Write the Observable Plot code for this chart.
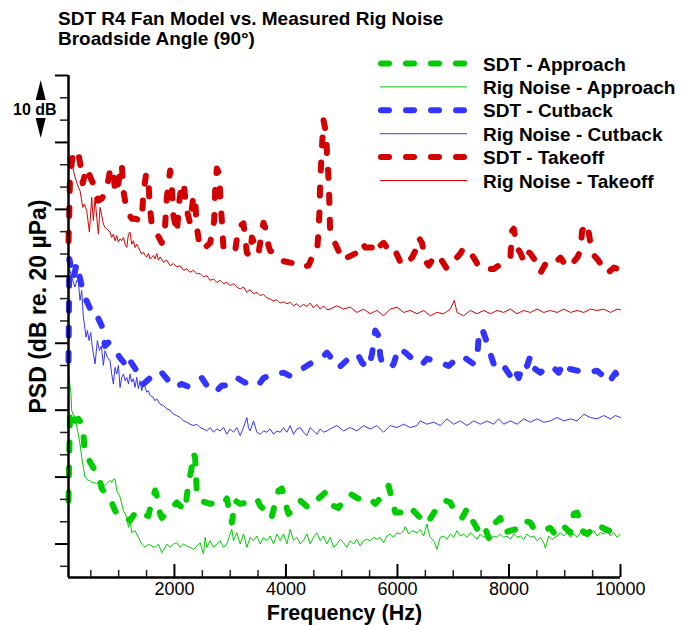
<!DOCTYPE html>
<html><head><meta charset="utf-8">
<script src="https://cdn.jsdelivr.net/npm/d3@7"></script>
<script src="https://cdn.jsdelivr.net/npm/@observablehq/plot@0.6"></script>
<style>
html,body{margin:0;padding:0;background:#fff;overflow:hidden}
#wrap{position:relative;width:693px;height:625px}
#wrap svg.over{position:absolute;left:0;top:0;pointer-events:none}
</style></head><body><div id="wrap"></div>
<script>
// ---- data: [frequency Hz, PSD dB] ----
const sdtTakeoff = [[100,115.3],[115,119.8],[127,124.8],[187,128.8],[276,128.3],[307,127.0],[355,123.9],[427,126.2],[517,124.3],[576,123.3],[635,121.3],[696,121.6],[756,122.5],[786,123.1],[845,125.8],[905,126.2],[935,122.4],[994,123.9],[1055,126.8],[1084,122.8],[1145,119.8],[1235,118.6],[1294,118.6],[1414,118.3],[1443,122.5],[1492,125.3],[1533,124.8],[1551,121.3],[1594,117.6],[1684,116.4],[1773,115.0],[1833,117.6],[1863,121.8],[1922,125.8],[1953,123.3],[1982,119.1],[2043,116.5],[2089,121.3],[2132,124.0],[2174,123.3],[2210,120.3],[2281,117.9],[2341,122.1],[2371,121.3],[2402,117.3],[2461,114.1],[2551,114.3],[2641,115.0],[2712,118.3],[2730,122.8],[2761,126.1],[2807,125.3],[2820,122.4],[2850,118.3],[2879,114.3],[3030,114.3],[3089,113.8],[3148,117.3],[3238,117.9],[3299,113.5],[3358,113.1],[3389,115.8],[3479,114.1],[3507,113.4],[3597,118.0],[3628,117.3],[3687,114.6],[3717,113.8],[3838,113.4],[3927,112.3],[4107,112.0],[4225,111.3],[4405,111.6],[4466,112.8],[4556,113.4],[4584,116.8],[4602,119.8],[4615,124.3],[4645,129.2],[4674,133.3],[4723,131.3],[4735,128.3],[4753,126.2],[4771,123.3],[4782,119.8],[4794,116.4],[4884,114.9],[4943,113.8],[5033,112.3],[5094,112.8],[5243,113.4],[5302,114.1],[5363,115.0],[5423,114.3],[5543,114.3],[5602,113.4],[5692,114.6],[5751,115.0],[5812,114.3],[5871,113.4],[5961,113.8],[6081,111.6],[6171,112.0],[6261,112.8],[6320,113.8],[6379,115.8],[6440,115.0],[6500,112.3],[6559,111.6],[6649,112.8],[6710,111.9],[6799,112.3],[6889,111.1],[7128,113.4],[7187,114.3],[7248,114.1],[7367,112.8],[7428,111.9],[7517,111.9],[7577,111.1],[7726,111.1],[7815,111.6],[7905,111.9],[8025,112.8],[8056,116.8],[8085,117.1],[8146,114.3],[8205,113.5],[8264,112.3],[8325,113.8],[8384,113.4],[8505,111.9],[8564,110.5],[8684,112.3],[8743,112.6],[8864,112.3],[8923,112.8],[9043,111.3],[9133,111.9],[9223,112.8],[9282,113.8],[9312,116.8],[9402,117.9],[9431,116.5],[9492,113.4],[9582,112.6],[9641,111.9],[9761,110.4],[9880,111.3],[9964,111.1]];

const rigTakeoff = [[100,127.3],[157,127.0],[217,124.8],[277,123.3],[307,122.8],[355,120.3],[385,120.8],[427,119.8],[475,116.6],[516,121.8],[546,118.3],[576,121.8],[606,118.8],[636,116.3],[666,120.3],[696,119.1],[726,117.8],[755,117.3],[785,117.1],[845,116.6],[875,115.8],[905,116.3],[935,115.3],[965,116.1],[995,115.1],[1025,115.6],[1055,115.3],[1085,115.8],[1115,114.8],[1145,114.3],[1175,116.3],[1204,116.6],[1234,114.8],[1264,115.3],[1294,114.3],[1324,114.8],[1354,114.3],[1384,113.8],[1414,113.3],[1444,113.6],[1474,113.1],[1504,112.9],[1534,113.4],[1563,112.6],[1593,112.9],[1623,113.1],[1653,112.6],[1683,113.4],[1713,112.4],[1743,112.9],[1803,112.1],[1863,112.4],[1922,111.6],[1982,111.9],[2042,111.4],[2102,111.6],[2162,110.9],[2222,111.1],[2281,110.6],[2341,110.9],[2401,110.4],[2461,110.4],[2521,109.9],[2581,110.1],[2640,109.4],[2700,109.6],[2760,109.1],[2820,109.4],[2880,108.9],[2940,109.1],[2999,108.6],[3059,108.9],[3119,108.4],[3179,108.1],[3239,108.4],[3299,107.6],[3358,108.0],[3418,107.4],[3478,107.6],[3538,107.1],[3598,107.3],[3657,106.8],[3717,106.6],[3777,106.3],[3837,106.5],[3897,106.0],[3957,106.2],[4016,105.9],[4076,106.1],[4136,105.6],[4196,105.9],[4256,105.4],[4315,105.8],[4375,105.5],[4435,106.0],[4495,105.3],[4555,105.8],[4615,105.1],[4675,105.6],[4734,105.0],[4794,105.1],[4914,105.6],[5033,105.1],[5153,105.4],[5273,104.6],[5392,105.1],[5512,104.4],[5632,104.9],[5751,104.1],[5871,105.1],[5991,105.4],[6110,104.6],[6230,104.9],[6350,104.4],[6469,104.9],[6589,104.1],[6708,104.6],[6828,104.4],[6948,105.1],[7020,106.4],[7068,104.6],[7187,104.1],[7307,104.9],[7427,104.4],[7546,104.9],[7666,104.4],[7786,104.9],[7905,104.6],[8025,105.1],[8145,104.4],[8264,104.9],[8384,104.6],[8504,105.1],[8623,104.6],[8743,104.9],[8863,104.6],[8982,105.1],[9102,104.6],[9222,104.9],[9341,104.6],[9461,105.1],[9581,104.9],[9700,105.1],[9820,104.6],[9940,105.1],[10000,105.0]];

const sdtCutback = [[100,97.4],[115,112.6],[158,110.8],[187,109.7],[248,111.9],[276,110.8],[337,108.6],[366,107.4],[486,105.2],[517,103.8],[635,103.7],[696,102.6],[756,99.6],[815,100.1],[935,98.9],[1025,97.8],[1174,96.3],[1204,97.4],[1414,94.7],[1443,93.9],[1563,94.8],[1653,95.4],[1743,95.9],[1892,94.4],[1982,93.4],[2132,93.9],[2251,93.5],[2491,94.8],[2581,93.7],[2730,92.6],[2850,93.7],[3059,93.7],[3148,94.7],[3269,94.1],[3389,94.7],[3538,94.1],[3597,94.8],[3777,95.4],[3956,95.6],[4076,95.1],[4166,95.4],[4315,96.3],[4466,97.1],[4645,97.8],[4735,98.6],[4854,97.4],[4943,96.3],[5123,97.7],[5184,98.4],[5302,98.1],[5363,97.1],[5482,96.3],[5543,98.4],[5602,101.9],[5661,101.1],[5692,98.1],[5722,97.1],[5871,96.3],[5931,96.9],[6020,99.3],[6141,98.6],[6261,97.7],[6320,96.9],[6469,97.1],[6530,97.7],[6828,96.9],[6918,96.6],[7069,97.7],[7159,98.1],[7367,96.9],[7428,97.8],[7456,100.8],[7517,102.2],[7577,100.8],[7666,98.4],[7726,96.9],[7846,97.4],[7905,96.6],[8025,95.1],[8085,96.3],[8175,94.8],[8264,97.1],[8325,96.6],[8384,98.1],[8444,96.3],[8564,95.6],[8684,96.6],[8803,96.3],[8893,95.6],[8982,97.1],[9072,96.2],[9223,95.9],[9402,95.6],[9582,95.9],[9731,94.8],[9790,94.1],[9910,95.6],[9970,94.7]];

const rigCutback = [[100,111.3],[128,110.8],[175,109.4],[217,108.4],[247,109.4],[277,109.1],[307,106.4],[337,107.9],[367,103.9],[415,100.9],[439,101.9],[469,100.4],[498,101.6],[528,99.4],[576,96.9],[618,100.4],[654,98.9],[690,99.6],[726,96.7],[756,98.9],[798,97.9],[845,97.4],[875,95.4],[905,93.9],[935,96.4],[965,95.4],[995,96.7],[1025,93.4],[1055,94.9],[1085,95.4],[1115,94.4],[1145,94.9],[1175,93.9],[1204,95.4],[1234,94.2],[1264,94.7],[1294,93.4],[1324,94.9],[1354,93.2],[1384,94.4],[1414,92.9],[1444,94.2],[1474,93.4],[1504,92.7],[1534,92.9],[1563,92.2],[1623,91.9],[1653,91.4],[1683,91.7],[1743,90.9],[1803,90.7],[1863,90.2],[1922,90.0],[1982,89.4],[2042,89.2],[2102,88.9],[2162,88.4],[2222,88.2],[2281,87.9],[2341,87.7],[2401,87.9],[2461,87.4],[2521,87.2],[2581,86.9],[2640,87.4],[2700,86.7],[2760,87.2],[2820,86.9],[2880,87.4],[2940,86.4],[2999,87.2],[3059,86.7],[3119,87.4],[3179,86.2],[3239,87.4],[3299,88.9],[3328,87.4],[3358,86.9],[3418,88.4],[3478,86.7],[3538,86.4],[3598,86.9],[3657,86.7],[3717,87.2],[3777,86.4],[3837,86.9],[3897,86.7],[3957,87.4],[4016,86.7],[4076,87.7],[4136,86.4],[4196,87.2],[4256,87.4],[4315,86.7],[4375,86.2],[4435,87.4],[4495,86.9],[4555,86.4],[4615,87.2],[4675,86.7],[4734,86.9],[4794,87.2],[4914,87.7],[5033,86.9],[5153,87.4],[5273,86.9],[5392,87.7],[5512,87.2],[5632,87.7],[5751,86.7],[5871,87.7],[5991,87.4],[6110,87.9],[6230,87.4],[6350,87.7],[6409,88.4],[6529,87.9],[6649,88.2],[6768,87.7],[6888,88.7],[7008,87.9],[7127,88.4],[7247,87.7],[7367,88.4],[7487,87.9],[7606,88.4],[7726,87.9],[7815,88.7],[7905,87.9],[8025,88.4],[8145,87.9],[8264,88.7],[8384,88.2],[8504,88.7],[8623,88.2],[8743,88.4],[8863,88.9],[8982,88.4],[9102,88.7],[9222,88.4],[9341,89.4],[9461,88.9],[9581,88.7],[9700,89.2],[9820,88.7],[9910,89.2],[10000,88.9]];

const sdtApproach = [[100,76.5],[127,89.5],[187,89.9],[217,88.4],[276,88.7],[337,88.0],[366,86.9],[379,85.0],[397,83.6],[546,81.4],[635,80.5],[696,78.3],[786,77.2],[845,76.8],[935,75.0],[994,74.2],[1084,74.2],[1145,73.9],[1204,73.5],[1325,75.0],[1414,74.5],[1533,74.2],[1563,75.3],[1653,78.0],[1684,77.2],[1743,74.5],[1773,73.9],[1953,75.4],[2043,76.2],[2192,75.0],[2251,79.2],[2299,80.9],[2341,83.6],[2371,82.9],[2402,77.5],[2461,76.5],[2641,76.0],[2761,76.2],[2879,76.0],[2940,76.8],[2999,74.2],[3030,73.2],[3089,76.5],[3179,76.0],[3299,76.2],[3358,76.5],[3479,76.8],[3538,75.7],[3628,75.0],[3687,75.4],[3748,74.2],[3866,78.0],[3927,78.3],[4017,75.3],[4046,74.5],[4197,75.7],[4256,76.5],[4405,75.4],[4466,76.2],[4584,76.8],[4705,77.7],[4735,76.9],[4854,75.7],[4943,75.4],[5063,76.9],[5153,77.5],[5274,76.9],[5392,76.5],[5512,76.8],[5602,76.0],[5782,77.7],[5841,78.7],[5931,75.7],[5961,74.7],[6171,74.7],[6230,75.4],[6320,74.7],[6410,73.9],[6530,74.7],[6589,73.8],[6679,75.0],[6738,75.7],[6858,76.5],[6948,76.2],[7069,74.2],[7159,73.9],[7248,75.3],[7277,74.5],[7428,72.3],[7517,73.2],[7577,72.3],[7636,70.9],[7756,73.2],[7846,73.9],[7905,71.7],[8025,72.0],[8175,72.3],[8264,73.5],[8384,73.2],[8444,72.3],[8594,72.0],[8743,72.4],[8803,71.7],[8923,73.0],[9013,72.4],[9102,71.7],[9162,74.5],[9223,74.7],[9312,72.0],[9402,71.5],[9521,72.4],[9582,73.0],[9700,72.3],[9790,72.0],[9910,71.2],[9970,70.8]];

const rigApproach = [[100,95.4],[145,92.4],[157,89.9],[217,88.9],[277,86.4],[307,84.9],[337,83.0],[367,81.4],[397,80.0],[427,79.7],[457,79.5],[487,79.5],[516,79.2],[546,79.2],[606,79.0],[666,79.5],[726,78.5],[786,79.0],[845,79.5],[875,79.2],[905,79.7],[935,79.7],[965,78.0],[1025,77.0],[1085,75.0],[1145,74.0],[1175,72.5],[1204,73.5],[1234,71.7],[1294,72.0],[1354,71.0],[1414,70.0],[1474,69.5],[1534,70.0],[1593,69.7],[1653,69.5],[1713,70.0],[1773,68.7],[1833,69.5],[1863,70.0],[1922,69.5],[1982,70.0],[2042,70.2],[2102,69.5],[2162,70.0],[2222,69.7],[2281,69.5],[2341,69.2],[2401,69.7],[2461,70.2],[2521,68.5],[2551,71.0],[2581,69.5],[2640,70.5],[2700,69.5],[2760,70.0],[2820,70.5],[2880,69.5],[2940,70.0],[2999,71.5],[3029,72.2],[3059,70.5],[3119,71.7],[3179,70.0],[3239,71.5],[3299,69.5],[3358,71.0],[3418,70.5],[3478,71.2],[3538,70.0],[3598,71.0],[3657,70.5],[3717,71.2],[3777,70.0],[3837,71.5],[3897,70.5],[3957,71.5],[4016,70.0],[4076,72.2],[4136,70.5],[4196,71.0],[4256,70.0],[4315,70.5],[4375,71.5],[4435,70.0],[4495,71.0],[4555,71.7],[4615,70.5],[4675,71.2],[4734,70.0],[4794,71.0],[4854,69.5],[4914,70.0],[4973,70.7],[5033,70.2],[5093,69.5],[5153,70.5],[5213,70.0],[5273,70.7],[5332,69.7],[5392,70.5],[5452,70.7],[5512,70.5],[5572,71.0],[5632,70.7],[5691,71.0],[5751,70.2],[5811,71.2],[5871,71.5],[5931,71.0],[5991,71.7],[6050,71.5],[6110,72.0],[6140,72.6],[6200,71.5],[6260,72.0],[6350,71.7],[6409,72.2],[6469,71.2],[6529,73.0],[6559,71.7],[6589,71.0],[6649,70.5],[6709,69.2],[6768,71.0],[6828,71.2],[6888,70.7],[6948,71.5],[7008,71.0],[7068,72.0],[7127,71.2],[7187,71.5],[7247,71.0],[7307,71.7],[7367,71.2],[7427,70.7],[7487,71.5],[7546,71.0],[7606,71.5],[7666,70.7],[7726,71.2],[7786,71.0],[7845,71.5],[7905,71.0],[7965,71.2],[8025,70.7],[8085,71.5],[8145,71.0],[8204,71.2],[8264,70.7],[8324,71.5],[8384,71.0],[8444,71.2],[8504,70.5],[8563,71.0],[8623,70.2],[8653,69.4],[8713,71.2],[8773,70.7],[8863,71.2],[8922,71.7],[8982,71.2],[9042,71.7],[9102,71.0],[9161,71.5],[9222,71.0],[9281,71.7],[9341,71.2],[9401,71.7],[9461,71.5],[9521,72.0],[9581,71.2],[9640,71.7],[9700,71.5],[9760,72.0],[9820,71.2],[9880,71.7],[9940,71.0],[10000,71.5]];

const seriesNames = ["SDT - Approach","Rig Noise - Approach","SDT - Cutback","Rig Noise - Cutback","SDT - Takeoff","Rig Noise - Takeoff"];
const seriesData = [sdtApproach, rigApproach, sdtCutback, rigCutback, sdtTakeoff, rigTakeoff];
const seriesColors = ["#00cc00","#00cc00","#3434ff","#3434ff","#d20000","#d80000"];
const seriesDashed = [true,false,true,false,true,false];

const xMajorTicks = [2000,4000,6000,8000,10000];
const xMinorTicks = [500,1000,1500,2500,3000,3500,4500,5000,5500,6500,7000,7500,8500,9000,9500];
const yMajorTicks = [70,80,90,100,110,120,130,140];
const yMinorTicks = [66.67,73.33,76.67,83.33,86.67,93.33,96.67,103.33,106.67,113.33,116.67,123.33,126.67,133.33,136.67];

const titleLines = ["SDT R4 Fan Model vs. Measured Rig Noise","Broadside Angle (90°)"];
const xLabel = "Frequency (Hz)";
const yLabel = "PSD (dB re. 20 µPa)";
const scaleNote = "10 dB";

const FONT = "'Liberation Sans', Arial, Helvetica, sans-serif";
const W = 693, H = 625, mL = 68, mR = 73, mT = 75, mB = 48;
const plotH = H - mT - mB;

const rows = d => d.map(([hz, db]) => ({hz, db}));
const order = [1,3,5,0,2,4];
const lineMarks = order.map(i => seriesDashed[i]
  ? Plot.line(rows(seriesData[i]), {x: "hz", y: "db", stroke: seriesColors[i], strokeWidth: 6, strokeDasharray: "8,17", strokeLinecap: "round", strokeLinejoin: "round"})
  : Plot.line(rows(seriesData[i]), {x: "hz", y: "db", stroke: seriesColors[i], strokeWidth: 1}));

const chart = Plot.plot({
  width: W, height: H,
  marginLeft: mL, marginRight: mR, marginTop: mT, marginBottom: mB,
  style: {fontFamily: FONT, background: "white", color: "black", overflow: "visible"},
  x: {domain: [100, 10000]},
  y: {domain: [65, 140]},
  marks: [
    ...lineMarks,
    Plot.ruleX(xMinorTicks, {insetTop: plotH - 7, strokeWidth: 1.5, stroke: "#222"}),
    Plot.ruleX(xMajorTicks, {insetTop: plotH - 13, strokeWidth: 2, stroke: "black"}),
    Plot.axisX({ticks: xMajorTicks, tickSize: 0, tickPadding: 5, fontSize: 18, label: null, tickFormat: d => String(d)}),
    Plot.axisY({ticks: yMajorTicks, tickSize: 13, tickFormat: () => "", label: null, strokeWidth: 2}),
    Plot.axisY({ticks: yMinorTicks, tickSize: 8, tickFormat: () => "", label: null, strokeWidth: 1.5, stroke: "#222"}),
    Plot.ruleX([100], {strokeWidth: 2.5, stroke: "black"}),
    Plot.ruleY([65], {strokeWidth: 2.5, stroke: "black"}),
    Plot.text([xLabel], {text: d => d, frameAnchor: "bottom", dy: 36, fontSize: 21.5, fontWeight: "bold", textAnchor: "middle", lineAnchor: "middle"}),
    Plot.text([yLabel], {text: d => d, frameAnchor: "left", rotate: -90, dx: -30, dy: -20, fontSize: 23, fontWeight: "bold", textAnchor: "middle", lineAnchor: "middle"})
  ]
});
const wrap = document.getElementById("wrap");
wrap.appendChild(chart);

// overlay: title, legend, 10 dB scale note
const ov = d3.select(wrap).append("svg").attr("class", "over")
  .attr("width", W).attr("height", H).style("font-family", FONT);
titleLines.forEach((t, i) => ov.append("text").attr("x", 58).attr("y", 25 + i * 20)
  .attr("font-size", 19).attr("font-weight", "bold").text(t));

seriesNames.forEach((name, i) => {
  const y = 63.5 + i * 23.4;
  const ln = ov.append("line").attr("x1", seriesDashed[i] ? 381 : 380).attr("x2", seriesDashed[i] ? 465 : 467)
    .attr("y1", y).attr("y2", y).attr("stroke", seriesColors[i]);
  if (seriesDashed[i]) ln.attr("stroke-width", 6).attr("stroke-dasharray", "8,17").attr("stroke-linecap", "round");
  else ln.attr("stroke-width", 1);
  ov.append("text").attr("x", 483).attr("y", y + 7).attr("font-size", 19).attr("font-weight", "bold").text(name);
});

ov.append("path").attr("d", "M40.7,80 L35.7,100 L45.7,100 Z").attr("fill", "black");
ov.append("path").attr("d", "M35.7,118 L45.7,118 L40.7,138 Z").attr("fill", "black");
ov.append("text").attr("x", 13).attr("y", 115).attr("font-size", 16).attr("font-weight", "bold").text(scaleNote);
</script>
</body></html>
